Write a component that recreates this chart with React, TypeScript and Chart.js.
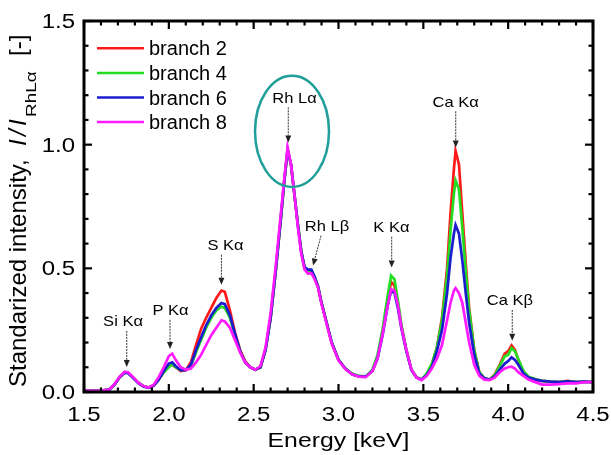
import React, { useEffect, useRef } from "react";
import { Chart, registerables } from "chart.js";
Chart.register(...registerables);

const energy = [
  1.50, 1.55, 1.60, 1.65, 1.68, 1.71, 1.74, 1.76, 1.79, 1.82,
  1.85, 1.88, 1.91, 1.94, 1.97, 2.00, 2.02, 2.04, 2.07, 2.10,
  2.13, 2.16, 2.19, 2.22, 2.25, 2.28, 2.31, 2.33, 2.36, 2.39,
  2.42, 2.45, 2.48, 2.51, 2.54, 2.57, 2.60, 2.63, 2.66, 2.68,
  2.70, 2.72, 2.74, 2.76, 2.78, 2.80, 2.82, 2.84, 2.86, 2.88,
  2.90, 2.93, 2.96, 3.00, 3.04, 3.08, 3.12, 3.16, 3.20, 3.23,
  3.26, 3.29, 3.31, 3.33, 3.35, 3.37, 3.40, 3.43, 3.46, 3.49,
  3.52, 3.55, 3.58, 3.61, 3.64, 3.66, 3.68, 3.69, 3.71, 3.73,
  3.75, 3.77, 3.80, 3.83, 3.86, 3.89, 3.92, 3.95, 3.98, 4.00,
  4.02, 4.04, 4.06, 4.09, 4.12, 4.16, 4.20, 4.25, 4.30, 4.35,
  4.40, 4.45, 4.50,
];

const branch2 = [
  0.005, 0.005, 0.006, 0.010, 0.030, 0.060, 0.080, 0.078, 0.058, 0.038,
  0.024, 0.018, 0.026, 0.050, 0.080, 0.105, 0.110, 0.100, 0.085, 0.088,
  0.120, 0.190, 0.255, 0.300, 0.340, 0.380, 0.410, 0.405, 0.330, 0.240,
  0.170, 0.125, 0.100, 0.090, 0.100, 0.170, 0.300, 0.490, 0.700, 0.850,
  0.980, 0.920, 0.800, 0.680, 0.570, 0.500, 0.480, 0.485, 0.460, 0.425,
  0.360, 0.280, 0.200, 0.130, 0.095, 0.072, 0.063, 0.062, 0.085, 0.140,
  0.240, 0.370, 0.445, 0.430, 0.360, 0.270, 0.170, 0.090, 0.060, 0.050,
  0.070, 0.110, 0.180, 0.300, 0.500, 0.720, 0.900, 0.975, 0.920, 0.720,
  0.520, 0.340, 0.170, 0.080, 0.055, 0.050, 0.070, 0.110, 0.155, 0.165,
  0.188, 0.170, 0.130, 0.080, 0.060, 0.050, 0.045, 0.042, 0.040, 0.045,
  0.040, 0.042, 0.040,
];

const branch4 = [
  0.005, 0.005, 0.006, 0.010, 0.030, 0.060, 0.080, 0.078, 0.058, 0.038,
  0.024, 0.018, 0.026, 0.050, 0.080, 0.100, 0.112, 0.100, 0.088, 0.090,
  0.105, 0.160, 0.210, 0.260, 0.300, 0.330, 0.345, 0.340, 0.300, 0.230,
  0.165, 0.120, 0.100, 0.090, 0.100, 0.170, 0.300, 0.490, 0.700, 0.850,
  0.975, 0.920, 0.800, 0.680, 0.570, 0.500, 0.485, 0.490, 0.465, 0.425,
  0.360, 0.280, 0.200, 0.130, 0.095, 0.075, 0.065, 0.063, 0.090, 0.150,
  0.255, 0.390, 0.470, 0.455, 0.370, 0.275, 0.170, 0.090, 0.060, 0.050,
  0.075, 0.115, 0.180, 0.290, 0.470, 0.650, 0.800, 0.855, 0.820, 0.660,
  0.490, 0.330, 0.170, 0.080, 0.055, 0.050, 0.068, 0.105, 0.145, 0.150,
  0.177, 0.165, 0.132, 0.085, 0.062, 0.052, 0.045, 0.042, 0.040, 0.043,
  0.040, 0.042, 0.040,
];

const branch6 = [
  0.005, 0.005, 0.006, 0.010, 0.030, 0.060, 0.078, 0.076, 0.056, 0.036,
  0.022, 0.017, 0.025, 0.050, 0.085, 0.115, 0.120, 0.105, 0.088, 0.088,
  0.110, 0.170, 0.220, 0.270, 0.310, 0.340, 0.360, 0.355, 0.310, 0.235,
  0.165, 0.120, 0.100, 0.090, 0.100, 0.170, 0.300, 0.490, 0.700, 0.850,
  0.980, 0.920, 0.800, 0.680, 0.570, 0.505, 0.495, 0.495, 0.465, 0.425,
  0.360, 0.280, 0.200, 0.130, 0.095, 0.072, 0.063, 0.062, 0.085, 0.135,
  0.230, 0.350, 0.410, 0.400, 0.340, 0.260, 0.165, 0.088, 0.058, 0.050,
  0.068, 0.100, 0.165, 0.250, 0.400, 0.540, 0.640, 0.675, 0.640, 0.530,
  0.400, 0.280, 0.150, 0.075, 0.055, 0.050, 0.062, 0.090, 0.115, 0.125,
  0.140, 0.130, 0.110, 0.075, 0.058, 0.050, 0.045, 0.042, 0.040, 0.043,
  0.040, 0.042, 0.040,
];

const branch8 = [
  0.005, 0.005, 0.006, 0.010, 0.032, 0.062, 0.082, 0.080, 0.060, 0.038,
  0.024, 0.018, 0.028, 0.060, 0.100, 0.145, 0.155, 0.130, 0.100, 0.090,
  0.095, 0.120, 0.150, 0.190, 0.230, 0.260, 0.290, 0.285, 0.260, 0.210,
  0.160, 0.120, 0.100, 0.090, 0.105, 0.180, 0.320, 0.510, 0.720, 0.860,
  0.990, 0.920, 0.800, 0.670, 0.560, 0.495, 0.480, 0.480, 0.455, 0.420,
  0.355, 0.275, 0.195, 0.128, 0.093, 0.072, 0.062, 0.060, 0.085, 0.135,
  0.235, 0.350, 0.415, 0.410, 0.350, 0.265, 0.170, 0.090, 0.058, 0.048,
  0.065, 0.095, 0.135, 0.190, 0.290, 0.360, 0.410, 0.420, 0.400, 0.360,
  0.280, 0.200, 0.110, 0.065, 0.050, 0.048, 0.058, 0.080, 0.095, 0.100,
  0.102, 0.095, 0.080, 0.065, 0.050, 0.040, 0.030, 0.030, 0.032, 0.035,
  0.035, 0.040, 0.040,
];

const seriesLabels = ["branch 2", "branch 4", "branch 6", "branch 8"];
const seriesValues = [branch2, branch4, branch6, branch8];
const seriesColors = ["#ff1a1a", "#22dd22", "#1c1ccf", "#ff1aff"];

// peak annotations: label position (tx, ty), arrow tail (x0,y0) -> tip (x1,y1), in data units
const peakNames = ["Si Kα", "P Kα", "S Kα", "Rh Lα", "Rh Lβ", "K Kα", "Ca Kα", "Ca Kβ"];
const peakLabelX = [1.73, 2.01, 2.334, 2.741, 2.932, 3.312, 3.69, 4.01];
const peakLabelY = [0.268, 0.312, 0.576, 1.169, 0.649, 0.645, 1.151, 0.353];
const arrowTailX = [1.752, 2.007, 2.31, 2.704, 2.897, 3.3135, 3.691, 4.024];
const arrowTailY = [0.247, 0.292, 0.555, 1.151, 0.632, 0.628, 1.135, 0.332];
const arrowTipX = [1.752, 2.007, 2.31, 2.704, 2.85, 3.3135, 3.691, 4.024];
const arrowTipY = [0.101, 0.174, 0.434, 1.009, 0.511, 0.503, 0.989, 0.207];

// highlight ellipse around Rh La (center and radii in data units)
const ellipseCenter = [2.726, 1.054];
const ellipseRadii = [0.218, 0.225];

const FONT = "'Liberation Sans', Arial, Helvetica, sans-serif";

function stretchedText(ctx: CanvasRenderingContext2D, text: string, x: number, y: number, sx: number) {
  ctx.save();
  ctx.translate(x, y);
  ctx.scale(sx, 1);
  ctx.fillText(text, 0, 0);
  ctx.restore();
}

const decorPlugin = {
  id: "decor",
  afterDatasetsDraw(chart: any) {
    const { ctx, chartArea: a, scales } = chart;
    const xs = scales.x;
    const ys = scales.y;
    ctx.save();

    // ellipse
    const ecx = xs.getPixelForValue(ellipseCenter[0]);
    const ecy = ys.getPixelForValue(ellipseCenter[1]);
    const erx = Math.abs(xs.getPixelForValue(ellipseCenter[0] + ellipseRadii[0]) - ecx);
    const ery = Math.abs(ys.getPixelForValue(ellipseCenter[1] + ellipseRadii[1]) - ecy);
    ctx.beginPath();
    ctx.ellipse(ecx, ecy, erx, ery, 0, 0, Math.PI * 2);
    ctx.strokeStyle = "#1f9e9a";
    ctx.lineWidth = 2.5;
    ctx.stroke();

    // frame
    ctx.strokeStyle = "#000";
    ctx.lineWidth = 3;
    ctx.strokeRect(a.left, a.top, a.right - a.left, a.bottom - a.top);

    // inward ticks on all four sides
    ctx.lineWidth = 2.2;
    const line = (x1: number, y1: number, x2: number, y2: number) => {
      ctx.beginPath();
      ctx.moveTo(x1, y1);
      ctx.lineTo(x2, y2);
      ctx.stroke();
    };
    const xMajor = xs.ticks.map((t: any) => t.value);
    const yMajor = ys.ticks.map((t: any) => t.value);
    const nx = Math.round((xs.max - xs.min) / 0.1);
    for (let i = 0; i <= nx; i++) {
      const v = xs.min + i * 0.1;
      const major = xMajor.some((m: number) => Math.abs(m - v) < 1e-6);
      const len = major ? 8 : 4.5;
      const px = xs.getPixelForValue(v);
      line(px, a.bottom, px, a.bottom - len);
      line(px, a.top, px, a.top + len);
    }
    const ny = Math.round((ys.max - ys.min) / 0.1);
    for (let i = 0; i <= ny; i++) {
      const v = ys.min + i * 0.1;
      const major = yMajor.some((m: number) => Math.abs(m - v) < 1e-6);
      const len = major ? 8 : 4.5;
      const py = ys.getPixelForValue(v);
      line(a.left, py, a.left + len, py);
      line(a.right, py, a.right - len, py);
    }

    // tick labels
    ctx.fillStyle = "#000";
    ctx.font = `20px ${FONT}`;
    ctx.textBaseline = "alphabetic";
    ctx.textAlign = "center";
    xs.ticks.forEach((t: any) => {
      stretchedText(ctx, t.value.toFixed(1), xs.getPixelForValue(t.value), a.bottom + 29, 1.2);
    });
    ctx.textAlign = "right";
    ys.ticks.forEach((t: any) => {
      stretchedText(ctx, t.value.toFixed(1), a.left - 9, ys.getPixelForValue(t.value) + 7, 1.2);
    });

    // x title
    ctx.textAlign = "center";
    ctx.font = `21px ${FONT}`;
    stretchedText(ctx, "Energy [keV]", (a.left + a.right) / 2, a.bottom + 55, 1.18);

    // y title (rotated, with italic I/I and subscript)
    ctx.save();
    ctx.translate(25.5, 387);
    ctx.rotate(-Math.PI / 2);
    ctx.textAlign = "left";
    ctx.font = `24px ${FONT}`;
    ctx.fillText("Standarized intensity,", 0, 0);
    ctx.font = `italic 24px ${FONT}`;
    ctx.fillText("I", 241, 0);
    ctx.fillText("/", 251, 0);
    ctx.fillText("I", 261, 0);
    ctx.save();
    ctx.translate(270, 10);
    ctx.scale(1.35, 1);
    ctx.font = `14px ${FONT}`;
    ctx.fillText("RhLα", 0, 0);
    ctx.restore();
    ctx.font = `24px ${FONT}`;
    ctx.fillText("[-]", 331, 0);
    ctx.restore();

    // legend
    ctx.textAlign = "left";
    ctx.font = `20px ${FONT}`;
    chart.data.datasets.forEach((ds: any, i: number) => {
      const yy = a.top + 27.3 + i * 24.6;
      ctx.strokeStyle = ds.borderColor;
      ctx.lineWidth = 2.5;
      line(a.left + 13, yy, a.left + 60, yy);
      ctx.fillStyle = "#000";
      ctx.fillText(ds.label, a.left + 65, yy + 7);
    });

    // peak annotations
    ctx.font = `15px ${FONT}`;
    ctx.textAlign = "center";
    peakNames.forEach((name, i) => {
      ctx.fillStyle = "#000";
      stretchedText(ctx, name, xs.getPixelForValue(peakLabelX[i]), ys.getPixelForValue(peakLabelY[i]), 1.1);
      const x0 = xs.getPixelForValue(arrowTailX[i]);
      const y0 = ys.getPixelForValue(arrowTailY[i]);
      const x1 = xs.getPixelForValue(arrowTipX[i]);
      const y1 = ys.getPixelForValue(arrowTipY[i]);
      const ang = Math.atan2(y1 - y0, x1 - x0);
      const hl = 7;
      const hw = 3;
      const bx = x1 - hl * Math.cos(ang);
      const by = y1 - hl * Math.sin(ang);
      ctx.strokeStyle = "#333";
      ctx.lineWidth = 1;
      ctx.setLineDash([2, 1]);
      line(x0, y0, bx, by);
      ctx.setLineDash([]);
      ctx.beginPath();
      ctx.moveTo(x1, y1);
      ctx.lineTo(bx + hw * Math.sin(ang), by - hw * Math.cos(ang));
      ctx.lineTo(bx - hw * Math.sin(ang), by + hw * Math.cos(ang));
      ctx.closePath();
      ctx.fillStyle = "#222";
      ctx.fill();
    });

    ctx.restore();
  },
};

export default function App() {
  const canvasRef = useRef<HTMLCanvasElement | null>(null);

  useEffect(() => {
    if (!canvasRef.current) return;
    const drawOrder = [3, 2, 1, 0];
    const chart = new Chart(canvasRef.current, {
      type: "line",
      data: {
        datasets: seriesLabels.map((label, i) => ({
          label,
          data: energy.map((e, j) => ({ x: e, y: seriesValues[i][j] })),
          borderColor: seriesColors[i],
          backgroundColor: seriesColors[i],
          borderWidth: 2.7,
          pointRadius: 0,
          tension: 0,
          fill: false,
          order: drawOrder[i],
        })),
      },
      options: {
        animation: false,
        responsive: false,
        devicePixelRatio: 1,
        layout: { padding: { top: 21, right: 18, left: 0, bottom: 0 } },
        plugins: {
          legend: { display: false },
          tooltip: { enabled: false },
          title: { display: false },
        },
        scales: {
          x: {
            type: "linear",
            min: 1.5,
            max: 4.5,
            ticks: { display: false, stepSize: 0.5 },
            grid: { display: false },
            border: { display: false },
            afterFit: (s: any) => {
              s.height = 63;
            },
          },
          y: {
            type: "linear",
            min: 0,
            max: 1.5,
            ticks: { display: false, stepSize: 0.5 },
            grid: { display: false },
            border: { display: false },
            afterFit: (s: any) => {
              s.width = 84;
            },
          },
        },
      },
      plugins: [decorPlugin],
    });
    return () => chart.destroy();
  }, []);

  return (
    <div style={{ position: "fixed", left: 0, top: 0, width: 611, height: 455, background: "#fff" }}>
      <canvas ref={canvasRef} width={611} height={455} />
    </div>
  );
}
